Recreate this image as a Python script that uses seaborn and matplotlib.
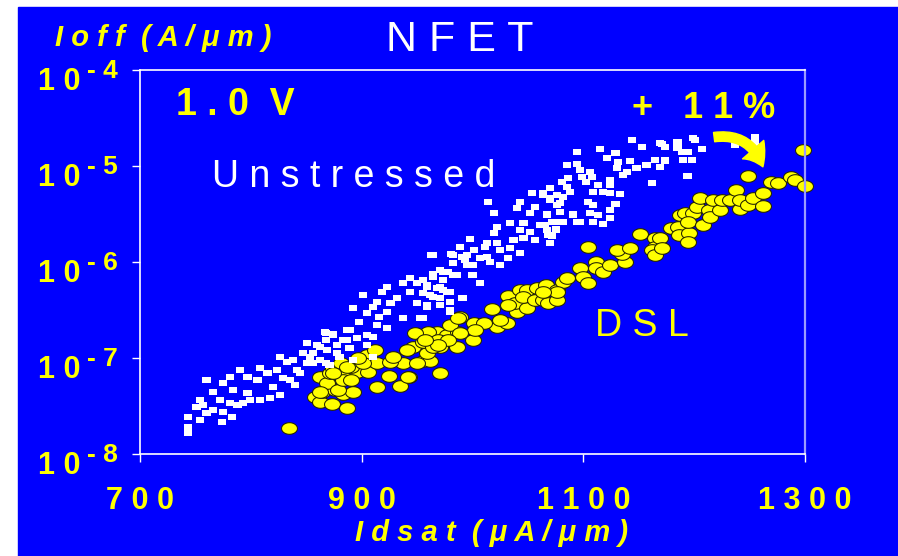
import numpy as np
import pandas as pd
import seaborn as sns
import matplotlib.pyplot as plt
from matplotlib.patches import Rectangle
from matplotlib.transforms import ScaledTranslation, blended_transform_factory

# Unstressed NFET: Idsat (uA/um) and Ioff (A/um)
unstressed_idsat = [
    743, 743, 743, 754, 751, 760, 766, 774, 783, 772, 781, 788, 793, 799, 808,
    817, 826, 760, 775, 781, 790, 797, 806, 815, 808, 824, 829, 835, 840, 826,
    833, 838, 847, 851, 842, 856, 862, 868, 878, 887, 868, 874, 887, 851, 856,
    844, 868, 878, 766, 797, 820, 784, 754, 775, 757,
    963, 981, 991, 995, 973, 982, 964, 944, 937, 950, 959, 971, 923, 918, 944,
    955, 964, 977, 901, 932, 950, 959, 971, 980, 991, 914, 926, 892, 910, 923,
    905, 916, 937, 953, 898, 914, 923, 889, 905, 910, 867, 874, 883, 896, 905,
    860, 869, 889, 853, 862, 871, 880, 892, 910, 980,
    1054, 1064, 1070, 1079, 1043, 1014, 1056, 1040, 1019, 1052, 1067, 1091, 1076,
    1094, 1034, 1046, 1061, 1022, 1043, 1052, 1075, 1068, 1019, 998, 1037, 1046,
    1056, 1070, 1022, 989, 1001, 1011, 1025, 1034, 1043, 995, 1013, 1032, 982,
    964, 993, 1007, 1016, 982, 1000, 1025, 971, 978, 986, 1000, 964, 973, 1007,
    955, 959, 968, 973, 980, 962, 971, 991, 959, 971, 980, 955, 1013,
    1144, 1169, 1174, 1185, 1201, 1207, 1185, 1194, 1115, 1153, 1094, 1129, 1121,
    1131, 1142, 1165, 1174, 1190, 1198, 1085, 1094, 1130, 1139, 1148, 1157, 1169,
    1097, 1106, 1136, 1099, 1108, 1194, 1086, 1081, 1102, 1124, 1162, 1113, 1124,
    1085, 1070, 1109, 1118, 1124, 1133, 1064, 1076, 1088, 1070, 1082, 1076, 1104,
    1109, 1129, 1079, 1091, 1067, 1106, 1113, 1124, 1124, 1072, 1082, 1097, 1109,
    1118, 1065, 1067, 1075, 1072, 1070,
    1255, 1255, 1237, 1199, 1171, 1189, 1174,
]
unstressed_ioff = [
    1.91e-8, 1.66e-8, 2.43e-8, 2.26e-8, 3.09e-8, 2.67e-8, 2.87e-8, 2.15e-8, 2.43e-8,
    3.65e-8, 3.40e-8, 3.24e-8, 3.40e-8, 3.65e-8, 3.65e-8, 3.83e-8, 4.12e-8, 5.9e-8,
    5.5e-8, 6.34e-8, 7.5e-8, 6.34e-8, 5.9e-8, 6.98e-8, 7.87e-8, 7.5e-8, 6.2e-8,
    5.9e-8, 5.2e-8, 1.02e-7, 9.1e-8, 9.5e-8, 1.13e-7, 8.9e-8, 7.5e-8, 1.13e-7,
    1.30e-7, 1.54e-7, 1.37e-7, 1.54e-7, 1.82e-7, 1.78e-7, 1.96e-7, 1.43e-7, 8.9e-8,
    6.98e-8, 8.9e-8, 1.13e-7, 4.43e-8, 4.32e-8, 4.99e-8, 4.64e-8, 3.65e-8, 2.74e-8,
    3.24e-8,
    1.18e-6, 1.21e-6, 1.13e-6, 9.3e-7, 7.87e-7, 7.3e-7, 7.6e-7, 6.8e-7, 6.0e-7,
    6.0e-7, 5.75e-7, 5.5e-7, 5.5e-7, 4.87e-7, 4.87e-7, 4.75e-7, 4.32e-7, 4.87e-7,
    4.53e-7, 4.2e-7, 3.74e-7, 3.40e-7, 3.56e-7, 3.83e-7, 4.2e-7, 3.83e-7, 3.74e-7,
    3.31e-7, 3.40e-7, 3.01e-7, 2.95e-7, 2.67e-7, 2.6e-7, 2.6e-7, 2.37e-7, 2.21e-7,
    2.05e-7, 1.96e-7, 1.74e-7, 1.65e-7, 1.87e-7, 1.74e-7, 1.54e-7, 1.62e-7, 1.37e-7,
    1.37e-7, 1.21e-7, 1.27e-7, 1.02e-7, 9.5e-8, 8.5e-8, 1.02e-7, 9.5e-8, 1.02e-7,
    3.0e-7,
    5.2e-6, 4.99e-6, 4.43e-6, 4.12e-6, 4.2e-6, 4.2e-6, 3.74e-6, 3.65e-6, 3.24e-6,
    3.24e-6, 3.09e-6, 3.09e-6, 2.61e-6, 2.61e-6, 2.55e-6, 2.55e-6, 2.43e-6, 2.31e-6,
    2.15e-6, 2.05e-6, 2.15e-6, 1.91e-6, 2.0e-6, 1.74e-6, 1.70e-6, 1.78e-6, 1.70e-6,
    1.58e-6, 1.58e-6, 1.43e-6, 1.33e-6, 1.43e-6, 1.33e-6, 1.40e-6, 1.24e-6, 1.18e-6,
    1.13e-6, 1.10e-6, 1.18e-6, 1.18e-6, 1.05e-6, 1.10e-6, 1.0e-6, 9.8e-7, 9.3e-7,
    9.3e-7, 8.3e-7, 7.87e-7, 7.3e-7, 7.3e-7, 7.0e-7, 6.5e-7, 6.0e-7, 6.5e-7, 5.5e-7,
    5.4e-7, 5.1e-7, 4.87e-7, 4.53e-7, 4.2e-7, 4.2e-7, 3.56e-7, 3.56e-7, 3.16e-7,
    2.6e-7, 1.58e-6,
    1.87e-5, 1.74e-5, 1.58e-5, 1.78e-5, 1.87e-5, 1.50e-5, 1.54e-5, 1.40e-5, 1.50e-5,
    1.58e-5, 1.40e-5, 1.37e-5, 1.21e-5, 1.10e-5, 1.13e-5, 1.15e-5, 1.13e-5, 1.15e-5,
    1.15e-5, 1.02e-5, 1.05e-5, 9.5e-6, 8.66e-6, 9.5e-6, 1.02e-5, 9.8e-6, 9.1e-6,
    8.66e-6, 8.06e-6, 7.67e-6, 7.67e-6, 7.8e-6, 7.5e-6, 6.8e-6, 6.8e-6, 7.1e-6,
    6.6e-6, 6.34e-6, 6.34e-6, 6.0e-6, 5.9e-6, 5.36e-6, 5.36e-6, 5.2e-6, 5.1e-6,
    5.2e-6, 4.99e-6, 5.36e-6, 4.64e-6, 4.75e-6, 3.93e-6, 4.2e-6, 3.93e-6, 4.0e-6,
    3.31e-6, 3.16e-6, 3.16e-6, 3.24e-6, 3.09e-6, 3.47e-6, 2.87e-6, 2.61e-6, 2.61e-6,
    2.61e-6, 2.61e-6, 2.49e-6, 2.43e-6, 2.15e-6, 2.2e-6, 1.87e-6, 1.58e-6,
    2.0e-5, 1.74e-5, 1.66e-5, 1.94e-5, 1.70e-5, 1.40e-5, 1.15e-5,
]

# DSL (stressed liner) NFET
dsl_idsat = [
    834, 858, 862, 873, 887, 864, 876, 883, 892, 862, 869, 879, 883, 896, 906,
    914, 925, 935, 943, 937, 955, 962, 971, 946, 959, 971, 986, 968, 977, 987,
    1000, 980, 1002, 1018, 1022, 989, 955, 905, 890, 914, 926, 901, 871, 883, 874,
    881, 887, 960, 948, 955, 964, 941, 950, 928, 942, 912, 897, 890, 874, 969,
    987, 1001, 1010, 1002, 989, 978, 969, 957, 1031, 1025, 1032, 1040, 1038, 1049,
    1032, 1043, 1049, 1046, 1056, 1064, 1068, 1058, 1066, 1076, 1076, 1082, 1085,
    1097, 1100, 1104, 1104, 1111, 1111, 1118, 1124, 1138, 1135, 1130, 1142, 1151,
    1165, 1165, 1162, 1165, 1169, 1171, 1179, 1185, 1186, 1195, 1194, 1187, 1192,
    1199, 1194, 1203, 1205, 1208, 1213, 1214, 1217, 1223, 1225, 1232, 1238, 1241,
    1241, 1249, 1253, 1262, 1262, 1249, 1269, 1276, 1287, 1291, 1300, 1298, 1076,
    1064, 862,
]
dsl_ioff = [
    1.87e-8, 3.93e-8, 3.48e-8, 3.32e-8, 3.01e-8, 4.43e-8, 4.64e-8, 4.22e-8, 4.43e-8,
    6.34e-8, 5.5e-8, 4.64e-8, 6.65e-8, 7.15e-8, 7.15e-8, 4.99e-8, 6.49e-8, 5.11e-8,
    6.34e-8, 8.87e-8, 9.3e-8, 9.3e-8, 6.98e-8, 1.30e-7, 1.13e-7, 1.30e-7, 1.30e-7,
    1.87e-7, 1.74e-7, 1.87e-7, 1.54e-7, 2.21e-7, 2.21e-7, 3.24e-7, 2.1e-7, 2.67e-7,
    1.74e-7, 1.07e-7, 8.06e-8, 8.87e-8, 9.1e-8, 8.87e-8, 6.98e-8, 5.9e-8, 7.87e-8,
    8.87e-8, 8.06e-8, 1.87e-7, 1.82e-7, 1.47e-7, 1.30e-7, 1.21e-7, 8.87e-8, 1.02e-7,
    6.34e-8, 1.21e-7, 1.0e-7, 5.9e-8, 6.98e-8, 1.54e-7, 2.61e-7, 2.31e-7, 2.31e-7,
    1.96e-7, 1.82e-7, 1.54e-7, 1.37e-7, 1.54e-7, 2.31e-7, 2.49e-7, 4.43e-7, 3.01e-7,
    3.74e-7, 3.32e-7, 3.56e-7, 5.11e-7, 5.11e-7, 4.32e-7, 4.02e-7, 4.02e-7, 3.74e-7,
    5.36e-7, 5.75e-7, 5.11e-7, 4.02e-7, 6.19e-7, 6.81e-7, 8.66e-7, 6.98e-7, 6.04e-7,
    1.43e-6, 1.0e-6, 8.66e-7, 7.87e-7, 9.3e-7, 1.0e-6, 1.21e-6, 1.33e-6, 1.40e-6,
    1.96e-6, 1.78e-6, 1.43e-6, 1.33e-6, 1.18e-6, 1.78e-6, 1.40e-6, 2.26e-6, 2.31e-6,
    1.91e-6, 2.0e-6, 1.62e-6, 3.09e-6, 3.24e-6, 3.24e-6, 2.61e-6, 3.74e-6, 4.64e-6,
    2.43e-6, 3.48e-6, 2.94e-6, 4.43e-6, 3.48e-6, 4.43e-6, 4.43e-6, 5.62e-6, 3.56e-6,
    4.43e-6, 3.93e-6, 4.64e-6, 5.23e-6, 3.83e-6, 7.87e-6, 6.81e-6, 6.65e-6, 7.67e-6,
    7.15e-6, 6.19e-6, 1.47e-5, 4.87e-7, 4.87e-7, 4.43e-8,
]

x_ticks = [700, 900, 1100, 1300]
x_tick_labels = ["7 0 0", "9 0 0", "1 1 0 0", "1 3 0 0"]
y_ticks = [1e-8, 1e-7, 1e-6, 1e-5, 1e-4]
y_tick_labels = ["1 0"] * 5
y_exponents = ["- 8", "- 7", "- 6", "- 5", "- 4"]

BLUE = "#0000ff"
YELLOW = "#ffff00"

sns.set_style("ticks")
plt.rcParams["font.family"] = ["Liberation Sans", "DejaVu Sans"]

unstressed = pd.DataFrame({"Idsat": unstressed_idsat, "Ioff": unstressed_ioff})
dsl = pd.DataFrame({"Idsat": dsl_idsat, "Ioff": dsl_ioff})

fig = plt.figure(figsize=(8.98, 5.56), dpi=100, facecolor="white")
fig.patches.append(Rectangle((18 / 898, 0), 1 - 18 / 898, 1 - 7 / 556,
                             transform=fig.transFigure, color=BLUE, zorder=-10))
ax = fig.add_axes([140 / 898, 1 - 454 / 556, 665 / 898, 384 / 556])
ax.set_facecolor(BLUE)

# marker shapes: flat squares for unstressed, ellipses for DSL
t = np.linspace(0, 2 * np.pi, 41)
ellipse = np.column_stack([np.cos(t), 0.73 * np.sin(t)])
rect = np.array([(-1, -0.72), (1, -0.72), (1, 0.72), (-1, 0.72), (-1, -0.72)])

sns.scatterplot(data=dsl, x="Idsat", y="Ioff", ax=ax, marker=ellipse, s=132,
                color=YELLOW, edgecolor="#202000", linewidth=0.75, zorder=2,
                clip_on=False)
sns.scatterplot(data=unstressed, x="Idsat", y="Ioff", ax=ax, marker=rect, s=34,
                color="white", edgecolor="none", linewidth=0, zorder=3)

ax.set_yscale("log")
ax.set_xlim(700, 1300)
ax.set_ylim(1e-8, 1e-4)
ax.set_xticks(x_ticks, x_tick_labels)
ax.set_yticks(y_ticks, y_tick_labels)
ax.minorticks_off()
ax.tick_params(axis="both", colors="white", labelcolor=YELLOW, direction="out",
               length=6, width=1)
ax.tick_params(axis="x", pad=17, labelsize=22)
ax.tick_params(axis="y", pad=37, labelsize=22)
for lab in ax.get_xticklabels() + ax.get_yticklabels():
    lab.set_fontweight("bold")

# "10" sits a little below its tick, the exponent sits raised beside it
down = ScaledTranslation(0, -8.5 / 100, fig.dpi_scale_trans)
for lab in ax.get_yticklabels():
    lab.set_transform(lab.get_transform() + down)
sup_tf = (blended_transform_factory(ax.transAxes, ax.transData)
          + ScaledTranslation(0, 2 / 100, fig.dpi_scale_trans))
for yv, ex in zip(y_ticks, y_exponents):
    ax.text(-0.08, yv, ex, transform=sup_tf, fontsize=19, fontweight="bold",
            color=YELLOW, ha="left", va="center_baseline")

for side in ["left", "bottom", "top"]:
    ax.spines[side].set_color("white")
    ax.spines[side].set_linewidth(1.2)
ax.spines["right"].set_visible(True)
ax.spines["right"].set_color("#9a9aff")
ax.spines["right"].set_linewidth(1.6)

ax.set_xlabel("I d s a t  ( μ A / μ m )", fontsize=21, fontweight="bold",
              fontstyle="italic", color=YELLOW, va="center")
ax.xaxis.set_label_coords(0.528, -0.206)
ax.set_ylabel("I o f f  ( A / μ m )", fontsize=21, fontweight="bold",
              fontstyle="italic", color=YELLOW, rotation=0, ha="center", va="center")
ax.yaxis.set_label_coords(0.035, 1.083)

ax.text(0.481, 1.078, "N F E T", transform=ax.transAxes, fontsize=31,
        color="white", ha="center", va="center")
ax.text(0.143, 0.909, "1 . 0  V", transform=ax.transAxes, fontsize=27,
        fontweight="bold", color=YELLOW, ha="center", va="center")
ax.text(0.322, 0.721, "U n s t r e s s e d", transform=ax.transAxes,
        fontsize=27, color="white", ha="center", va="center")
ax.text(0.755, 0.333, "D S L", transform=ax.transAxes, fontsize=27,
        color=YELLOW, ha="center", va="center")
ax.text(0.848, 0.901, "+   1 1 %", transform=ax.transAxes, fontsize=26,
        fontweight="bold", color=YELLOW, ha="center", va="center")

ax.annotate("", xy=(1262, 9.8e-6), xytext=(1218, 2.0e-5),
            arrowprops=dict(arrowstyle="simple,head_length=0.95,head_width=1.35,tail_width=0.45",
                            connectionstyle="arc3,rad=-0.4", color=YELLOW,
                            mutation_scale=15, shrinkA=0, shrinkB=0))

fig.savefig("out.png", dpi=100, facecolor=fig.get_facecolor())
